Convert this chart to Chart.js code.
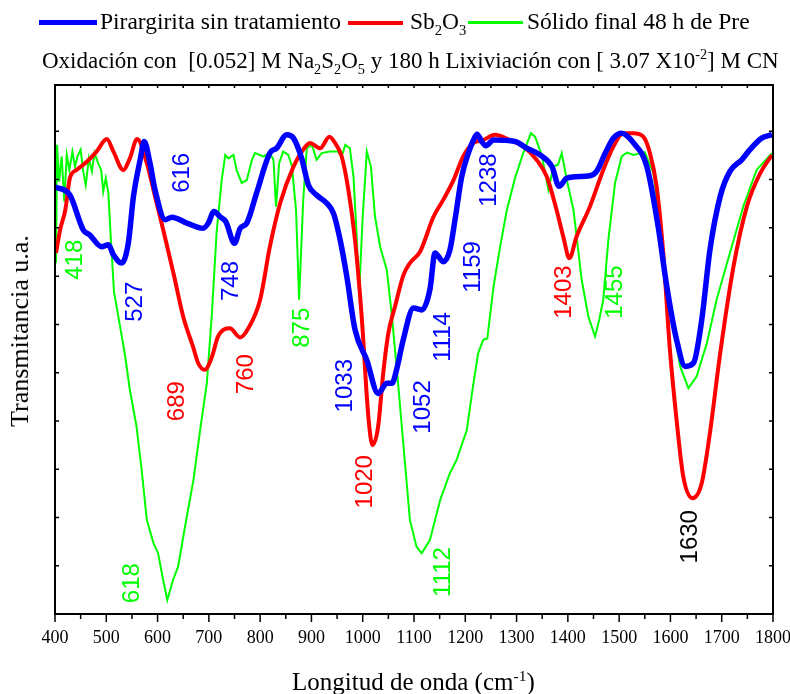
<!DOCTYPE html>
<html>
<head>
<meta charset="utf-8">
<script src="https://cdn.jsdelivr.net/npm/chart.js@4.4.1/dist/chart.umd.min.js"></script>
<style>
    body { margin: 0; background: #fff; }
    #wrap { position: relative; width: 790px; height: 694px; font-family: 'Liberation Serif', 'Times New Roman', serif; color: #000; }
    #wrap canvas { position: absolute; left: 0; top: 0; }
    .txt { position: absolute; white-space: nowrap; line-height: 1; }
    .ln { position: absolute; }
    sub, sup { font-size: 0.62em; line-height: 0; }
</style>
</head>
<body>
<div id="wrap">
    <canvas id="ftir" width="790" height="694"></canvas>

    <!-- legend -->
    <span class="ln" style="left:39px; top:20px; width:58px; height:5px; background:#0000ff;"></span>
    <span class="txt" style="left:100px; top:10px; font-size:23.5px;">Pirargirita sin tratamiento</span>
    <span class="ln" style="left:348px; top:21px; width:55px; height:4px; background:#ff0000;"></span>
    <span class="txt" style="left:410px; top:10px; font-size:23.5px;">Sb<sub>2</sub>O<sub>3</sub></span>
    <span class="ln" style="left:468px; top:21px; width:55px; height:3px; background:#00ff00;"></span>
    <span class="txt" style="left:527px; top:10px; font-size:23.5px;">Sólido final 48 h de Pre</span>

    <!-- subtitle -->
    <span class="txt" style="left:42px; top:49px; font-size:23px;">Oxidación con&nbsp; [0.052] M Na<sub>2</sub>S<sub>2</sub>O<sub>5</sub> y 180 h Lixiviación con [ 3.07 X10<sup>-2</sup>] M CN</span>

    <!-- axis titles -->
    <span class="txt" style="left:292px; top:669px; font-size:25px;">Longitud de onda (cm<sup>-1</sup>)</span>
    <span class="txt" style="left:20px; top:331px; font-size:26px; transform: translate(-50%, -50%) rotate(-90deg);">Transmitancia u.a.</span>
</div>

<script>
// --- DATA: wavenumber (cm-1) and transmittance (a.u.) ---
const blueX = [400, 429, 455, 468, 491, 504, 514, 530, 543, 553, 566, 574, 585, 595, 615, 628, 657, 689, 699, 710, 722, 733, 750, 761, 774, 793, 819, 832, 852, 865, 881, 894, 910, 930, 943, 956, 969, 985, 1008, 1030, 1047, 1057, 1066, 1079, 1099, 1115, 1131, 1141, 1157, 1170, 1180, 1193, 1206, 1216, 1223, 1232, 1240, 1255, 1297, 1320, 1346, 1369, 1383, 1398, 1443, 1456, 1473, 1489, 1505, 1528, 1554, 1576, 1593, 1612, 1629, 1645, 1661, 1677, 1697, 1716, 1739, 1755, 1778, 1798];
const blueY = [8.85, 8.68, 7.96, 7.85, 7.61, 7.65, 7.44, 7.27, 7.69, 8.65, 9.41, 9.79, 9.35, 8.79, 8.17, 8.22, 8.10, 7.99, 8.10, 8.34, 8.23, 8.13, 7.68, 7.99, 8.10, 8.72, 9.55, 9.65, 9.93, 9.86, 9.44, 8.89, 8.68, 8.51, 8.30, 7.75, 6.99, 5.89, 5.26, 4.57, 4.78, 4.78, 5.06, 5.68, 6.34, 6.30, 6.72, 7.48, 7.30, 7.54, 8.17, 9.06, 9.55, 9.82, 9.94, 9.79, 9.70, 9.82, 9.79, 9.65, 9.51, 9.27, 8.86, 9.03, 9.08, 9.17, 9.55, 9.86, 9.96, 9.76, 9.27, 8.03, 6.78, 5.68, 5.13, 5.20, 6.09, 7.54, 8.65, 9.17, 9.41, 9.62, 9.86, 9.93];

const redX = [402, 410, 420, 429, 442, 462, 481, 501, 514, 533, 546, 560, 579, 595, 611, 631, 650, 670, 679, 692, 706, 718, 741, 761, 777, 800, 819, 839, 865, 884, 897, 917, 935, 946, 959, 972, 985, 998, 1011, 1019, 1030, 1040, 1050, 1063, 1079, 1092, 1112, 1138, 1157, 1177, 1196, 1216, 1235, 1258, 1287, 1313, 1339, 1359, 1378, 1391, 1403, 1417, 1443, 1469, 1489, 1508, 1528, 1547, 1560, 1573, 1586, 1599, 1612, 1625, 1643, 1661, 1677, 1697, 1723, 1749, 1775, 1798];
const redY = [7.48, 7.96, 8.37, 9.03, 9.20, 9.37, 9.58, 9.84, 9.58, 9.20, 9.44, 9.84, 9.34, 8.65, 7.96, 7.06, 6.16, 5.51, 5.20, 5.06, 5.33, 5.75, 5.92, 5.73, 5.92, 6.51, 7.61, 8.51, 9.27, 9.62, 9.76, 9.65, 9.89, 9.76, 9.48, 8.79, 7.75, 6.16, 4.09, 3.50, 3.88, 4.99, 5.82, 6.37, 7.01, 7.27, 7.51, 8.23, 8.58, 8.99, 9.48, 9.76, 9.82, 9.93, 9.82, 9.69, 9.41, 9.06, 8.37, 7.82, 7.37, 7.82, 8.44, 9.20, 9.69, 9.96, 9.96, 9.89, 9.55, 8.86, 7.48, 5.47, 4.02, 2.85, 2.40, 2.71, 3.75, 5.40, 7.20, 8.44, 9.13, 9.51];

const greenX = [402, 404, 408, 413, 418, 423, 428, 434, 439, 444, 450, 455, 460, 466, 472, 477, 484, 490, 494, 499, 504, 509, 515, 527, 537, 546, 559, 569, 579, 592, 601, 611, 619, 630, 640, 657, 670, 683, 696, 706, 715, 725, 732, 738, 748, 754, 764, 774, 784, 790, 806, 819, 826, 831, 837, 845, 855, 862, 870, 876, 884, 891, 901, 910, 920, 936, 952, 959, 966, 975, 982, 988, 993, 1000, 1008, 1016, 1024, 1034, 1047, 1057, 1069, 1083, 1092, 1105, 1115, 1131, 1151, 1170, 1183, 1203, 1213, 1225, 1235, 1243, 1255, 1268, 1281, 1297, 1313, 1328, 1336, 1349, 1362, 1372, 1381, 1388, 1398, 1411, 1427, 1440, 1453, 1461, 1469, 1479, 1492, 1505, 1515, 1528, 1550, 1567, 1580, 1599, 1619, 1635, 1651, 1671, 1690, 1716, 1742, 1768, 1798];
const greenY = [7.27, 9.72, 8.96, 9.48, 8.55, 9.51, 9.20, 9.58, 9.27, 9.48, 9.62, 9.17, 8.89, 9.44, 9.17, 9.55, 9.34, 9.20, 8.75, 9.03, 8.72, 7.75, 6.68, 5.95, 5.33, 4.64, 3.88, 2.98, 1.95, 1.47, 1.26, 0.70, 0.29, 0.70, 0.98, 2.02, 2.78, 3.81, 4.78, 6.23, 7.89, 8.99, 9.51, 9.44, 9.51, 9.20, 8.93, 8.99, 9.41, 9.55, 9.48, 9.55, 9.41, 8.44, 9.34, 9.58, 9.51, 9.27, 8.37, 6.51, 8.58, 9.65, 9.72, 9.41, 9.55, 9.58, 9.58, 9.48, 9.72, 9.65, 9.06, 7.89, 6.65, 8.23, 9.58, 9.27, 8.23, 7.61, 7.13, 6.16, 4.78, 3.05, 1.95, 1.39, 1.26, 1.53, 2.36, 2.92, 3.19, 3.81, 4.57, 5.40, 5.68, 5.71, 6.78, 7.61, 8.37, 9.03, 9.55, 9.96, 9.89, 9.51, 8.79, 9.27, 9.31, 9.55, 8.99, 8.37, 6.92, 6.16, 5.75, 6.09, 6.51, 7.75, 8.93, 9.48, 9.56, 9.51, 9.57, 9.13, 8.03, 6.37, 5.13, 4.68, 4.92, 5.61, 6.51, 7.48, 8.44, 9.20, 9.55];

// x tick labels (cm-1)
const xTicks = [400, 500, 600, 700, 800, 900, 1000, 1100, 1200, 1300, 1400, 1500, 1600, 1700, 1800];

// peak labels: text, colour, anchor (wavenumber, transmittance)
const peakText = ['418', '527', '616', '748', '689', '760', '875', '1033', '1020', '618', '1052', '1114', '1159', '1238', '1403', '1455', '1112', '1630'];
const peakColor = ['#00ff00', '#0000ff', '#0000ff', '#0000ff', '#ff0000', '#ff0000', '#00ff00', '#0000ff', '#ff0000', '#00ff00', '#0000ff', '#0000ff', '#0000ff', '#0000ff', '#ff0000', '#00ff00', '#00ff00', '#000000'];
const peakX = [439, 556, 648, 743, 638, 774, 882, 966, 1005, 550, 1118, 1157, 1215, 1246, 1393, 1492, 1157, 1638];
const peakY = [7.34, 6.47, 9.14, 6.90, 4.41, 4.97, 5.93, 4.73, 2.74, 0.64, 4.29, 5.74, 7.19, 8.99, 6.67, 6.67, 0.87, 1.60];

function toPoints(xs, ys) {
    return xs.map((x, i) => ({ x: x, y: ys[i] }));
}

// --- frame with ticks (Origin style box) + peak labels ---
const framePlugin = {
    id: 'frame',
    afterDatasetsDraw(chart) {
        const { ctx, chartArea: a, scales } = chart;
        ctx.save();
        ctx.strokeStyle = '#000';
        ctx.lineWidth = 2;
        ctx.strokeRect(a.left, a.top, a.right - a.left, a.bottom - a.top);
        ctx.lineWidth = 1.5;
        ctx.beginPath();
        for (let w = 400; w <= 1800; w += 50) {
            const px = scales.x.getPixelForValue(w);
            const major = w % 100 === 0;
            ctx.moveTo(px, a.bottom);
            ctx.lineTo(px, a.bottom + (major ? 8 : 5));
            ctx.moveTo(px, a.top);
            ctx.lineTo(px, a.top + 3);
        }
        for (let v = 1; v <= 10; v++) {
            const py = scales.y.getPixelForValue(v);
            ctx.moveTo(a.left, py);
            ctx.lineTo(a.left + 4, py);
            ctx.moveTo(a.right, py);
            ctx.lineTo(a.right - 4, py);
        }
        ctx.stroke();

        // peak labels, rotated
        ctx.font = '24px "Liberation Sans", Arial, sans-serif';
        ctx.textAlign = 'center';
        ctx.textBaseline = 'middle';
        peakText.forEach((t, i) => {
            const px = scales.x.getPixelForValue(peakX[i]);
            const py = scales.y.getPixelForValue(peakY[i]);
            ctx.save();
            ctx.translate(px, py);
            ctx.rotate(-Math.PI / 2);
            ctx.fillStyle = peakColor[i];
            ctx.fillText(t, 0, 0);
            ctx.restore();
        });
        ctx.restore();
    }
};

const ctx = document.getElementById('ftir').getContext('2d');
new Chart(ctx, {
    type: 'line',
    data: {
        datasets: [
            { label: 'Sólido final 48 h de Pre', data: toPoints(greenX, greenY), borderColor: '#00ff00', borderWidth: 2, tension: 0, order: 3 },
            { label: 'Sb2O3', data: toPoints(redX, redY), borderColor: '#ff0000', borderWidth: 4, cubicInterpolationMode: 'monotone', order: 2 },
            { label: 'Pirargirita sin tratamiento', data: toPoints(blueX, blueY), borderColor: '#0000ff', borderWidth: 5.5, cubicInterpolationMode: 'monotone', order: 1 }
        ]
    },
    options: {
        responsive: false,
        animation: false,
        elements: { point: { radius: 0 } },
        layout: { padding: { top: 85, right: 17, left: 0, bottom: 0 } },
        plugins: { legend: { display: false }, tooltip: { enabled: false } },
        scales: {
            x: {
                type: 'linear',
                min: 400,
                max: 1800,
                afterBuildTicks: (s) => { s.ticks = xTicks.map(v => ({ value: v })); },
                afterFit: (s) => { s.height = 80; s.paddingLeft = 0; s.paddingRight = 0; },
                grid: { display: false, drawTicks: false },
                border: { display: false },
                ticks: { color: '#000', padding: 13, maxRotation: 0, callback: (v) => String(v), font: { family: 'Liberation Serif', size: 18 } }
            },
            y: {
                min: 0,
                max: 10.96,
                afterFit: (s) => { s.width = 55; },
                grid: { display: false, drawTicks: false },
                border: { display: false },
                ticks: { display: false }
            }
        }
    },
    plugins: [framePlugin]
});
</script>
</body>
</html>
